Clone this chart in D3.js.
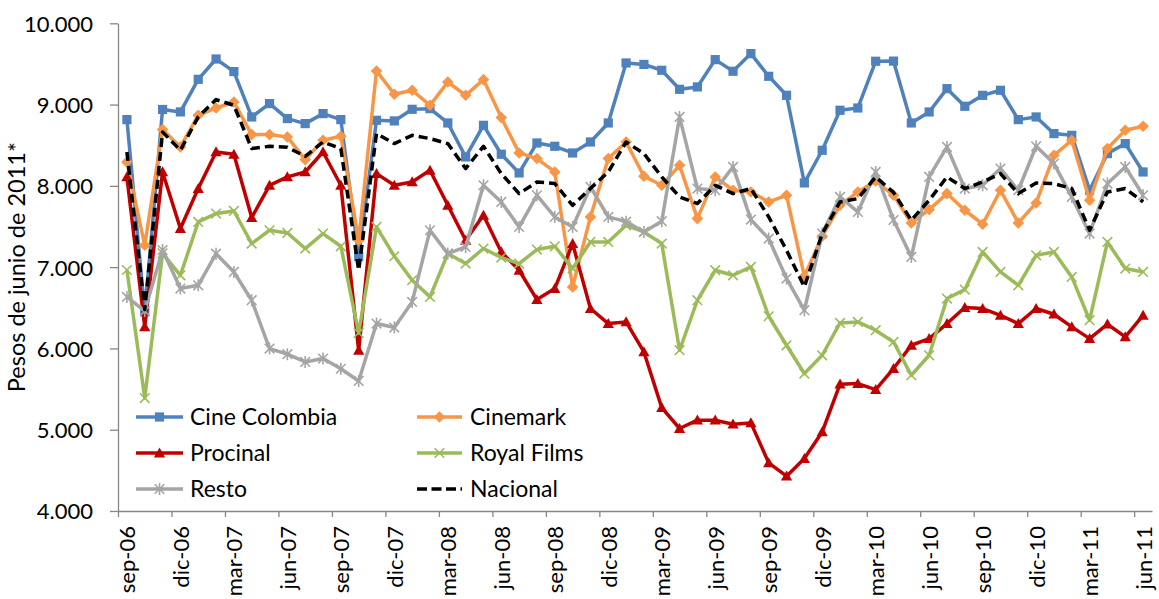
<!DOCTYPE html>
<html><head><meta charset="utf-8">
<script src="https://cdn.jsdelivr.net/npm/d3@7"></script>
<style>
html,body{margin:0;padding:0;background:#fff;}
svg{display:block;}
text{font-family:Lato,"Open Sans",sans-serif;fill:#000;}
</style></head><body>
<svg id="chart" width="1159" height="599"></svg>
<script>
const categories = [
 "sep-06","oct-06","nov-06","dic-06",
 "ene-07","feb-07","mar-07","abr-07","may-07","jun-07","jul-07","ago-07","sep-07","oct-07","nov-07","dic-07",
 "ene-08","feb-08","mar-08","abr-08","may-08","jun-08","jul-08","ago-08","sep-08","oct-08","nov-08","dic-08",
 "ene-09","feb-09","mar-09","abr-09","may-09","jun-09","jul-09","ago-09","sep-09","oct-09","nov-09","dic-09",
 "ene-10","feb-10","mar-10","abr-10","may-10","jun-10","jul-10","ago-10","sep-10","oct-10","nov-10","dic-10",
 "ene-11","feb-11","mar-11","abr-11","may-11","jun-11"];

const tickLabels = ["sep-06","dic-06","mar-07","jun-07","sep-07","dic-07","mar-08","jun-08","sep-08","dic-08",
 "mar-09","jun-09","sep-09","dic-09","mar-10","jun-10","sep-10","dic-10","mar-11","jun-11"];

const yTicks = [4000,5000,6000,7000,8000,9000,10000];

const cineColombia = [8815,6450,8940,8910,9311,9561,9406,8848,9012,8828,8766,8889,8815,7130,8807,8799,
 8942,8950,8774,8356,8745,8389,8159,8528,8487,8405,8540,8774,9512,9494,9422,9188,9217,9553,9410,9627,
 9348,9114,8036,8438,8930,8958,9533,9535,8774,8909,9196,8979,9114,9176,8815,8848,8643,8622,7946,8397,8520,8171];

const cinemark = [8294,7269,8692,8479,8868,8958,9032,8631,8631,8602,8323,8561,8610,7330,9414,9127,
 9176,8991,9278,9114,9307,8840,8405,8336,8171,6757,7618,8336,8540,8118,8007,8253,7597,8110,7946,7925,
 7802,7884,6888,7380,7761,7925,8060,7884,7544,7708,7905,7700,7528,7946,7544,7790,8376,8561,7823,8459,8684,8733];

const procinal = [8110,6265,8171,7475,7967,8417,8389,7610,8007,8110,8171,8417,8007,5975,8151,8007,
 8048,8192,7761,7331,7638,7187,6962,6601,6737,7290,6491,6306,6326,5957,5272,5015,5117,5117,5068,5084,
 4592,4428,4646,4973,5560,5568,5494,5753,6039,6121,6306,6503,6491,6408,6306,6491,6421,6265,6121,6298,6142,6408];

const royalFilms = [6965,5390,7170,6900,7556,7659,7691,7290,7454,7421,7229,7413,7257,6190,7495,7134,
 6839,6634,7167,7044,7229,7118,7044,7216,7257,6983,7310,7310,7515,7433,7290,5978,6593,6962,6900,7003,
 6396,6039,5691,5916,6314,6326,6224,6080,5670,5916,6614,6724,7187,6941,6777,7146,7187,6880,6347,7310,6983,6941];

const resto = [6634,6460,7210,6737,6777,7166,6941,6593,5998,5929,5834,5876,5750,5600,6306,6257,
 6572,7454,7167,7249,8007,7802,7495,7884,7618,7495,7987,7618,7560,7433,7565,8848,7967,7946,8233,7585,
 7351,6860,6470,7413,7864,7679,8171,7580,7126,8110,8479,7967,8007,8213,7946,8487,8274,7864,7413,8028,8233,7884];

const nacional = [8417,6478,8663,8438,8848,9061,8991,8459,8487,8475,8364,8540,8459,6962,8643,8520,
 8622,8582,8520,8213,8487,8151,7905,8048,8028,7761,7967,8171,8540,8397,8110,7864,7782,8007,7905,7967,
 7618,7208,6757,7413,7802,7843,8110,7920,7577,7823,8110,7967,8048,8151,7905,8036,8028,7967,7454,7925,7967,7802];

const seriesNames = ["Cine Colombia","Cinemark","Procinal","Royal Films","Resto","Nacional"];
const seriesValues = [cineColombia, cinemark, procinal, royalFilms, resto, nacional];
const seriesColors = ["#4F81BD","#F79646","#C00000","#9BBB59","#A5A5A5","#000000"];
const seriesMarkers = ["square","diamond","triangle","x","star","none"];

const plot = {left:118, right:1152, top:23.3, bottom:511};
const svg = d3.select("#chart");
const x = d3.scalePoint().domain(categories).range([plot.left, plot.right]).padding(0.5);
const xb = d3.scaleLinear().domain([0, categories.length]).range([plot.left, plot.right]);
const y = d3.scaleLinear().domain([4000, 10000]).range([plot.bottom, plot.top]);
const axisColor = "#868686";
const fontSize = 22;

// X axis line + tick marks at category boundaries
const gx = svg.append("g").attr("transform", `translate(0,${plot.bottom})`)
  .call(d3.axisBottom(xb).tickValues(d3.range(0, categories.length, 3)).tickSize(6).tickSizeOuter(0).tickFormat(""));
gx.select(".domain").attr("stroke", axisColor).attr("stroke-width", 1.3);
gx.selectAll(".tick line").attr("stroke", axisColor).attr("stroke-width", 1.3);

// X labels
const gxl = svg.append("g").attr("transform", `translate(0,${plot.bottom})`)
  .call(d3.axisBottom(x).tickValues(tickLabels).tickSize(0));
gxl.attr("font-family", null).attr("font-size", fontSize);
gxl.select(".domain").remove();
gxl.selectAll(".tick text").attr("transform", "rotate(-90)").attr("text-anchor", "end")
  .attr("x", -15).attr("y", 0).attr("dy", "0.36em").attr("fill", "#000");

// Y axis
const fmt = d3.formatLocale({decimal:",", thousands:".", grouping:[3], currency:["$",""]}).format(",.0f");
const gy = svg.append("g").attr("transform", `translate(${plot.left},0)`)
  .call(d3.axisLeft(y).tickValues(yTicks).tickFormat(fmt).tickSize(8).tickPadding(17).tickSizeOuter(0));
gy.attr("font-family", null).attr("font-size", fontSize);
gy.select(".domain").attr("stroke", axisColor).attr("stroke-width", 1.3);
gy.selectAll(".tick line").attr("stroke", axisColor).attr("stroke-width", 1.3);
gy.selectAll(".tick text").attr("dy", "0.36em").attr("fill", "#000");

// Y title
svg.append("text").attr("transform", `translate(25,${(plot.top + plot.bottom) / 2}) rotate(-90)`)
  .attr("text-anchor", "middle").attr("font-size", 23.5).text("Pesos de junio de 2011*");

function markerPath(type) {
  switch (type) {
    case "square": return "M-4.6,-4.6H4.6V4.6H-4.6Z";
    case "diamond": return "M0,-5.8L5.8,0L0,5.8L-5.8,0Z";
    case "triangle": return "M0,-5.6L5.6,4.4H-5.6Z";
    case "x": return "M-4.8,-4.8L4.8,4.8M-4.8,4.8L4.8,-4.8";
    case "star": return "M-4.8,-4.8L4.8,4.8M-4.8,4.8L4.8,-4.8M0,-6L0,6";
    default: return "";
  }
}
function styleMarker(sel, type, color) {
  if (type === "x" || type === "star") {
    sel.attr("fill", "none").attr("stroke", color).attr("stroke-width", 1.6);
  } else {
    sel.attr("fill", color).attr("stroke", "none");
  }
}

const line = d3.line().x((d, i) => x(categories[i])).y(d => y(d));
const gSeries = svg.append("g");
seriesValues.forEach((vals, si) => {
  const g = gSeries.append("g");
  const color = seriesColors[si];
  const p = g.append("path").datum(vals).attr("d", line).attr("fill", "none")
    .attr("stroke", color).attr("stroke-width", 3.5).attr("stroke-linejoin", "round");
  if (seriesMarkers[si] === "none") p.attr("stroke-dasharray", "9,5");
  if (seriesMarkers[si] !== "none") {
    g.selectAll("path.m").data(vals).join("path").attr("class", "m")
      .attr("d", markerPath(seriesMarkers[si]))
      .attr("transform", (d, i) => `translate(${x(categories[i])},${y(d)})`)
      .call(styleMarker, seriesMarkers[si], color);
  }
});

// Legend
const legendRows = [417, 453, 489];
const legendCols = [{x0:136, x1:183, tx:190}, {x0:417, x1:462, tx:470}];
seriesNames.forEach((name, si) => {
  const r = Math.floor(si / 2), c = si % 2;
  const col = legendCols[c], ly = legendRows[r];
  const g = svg.append("g");
  const ln = g.append("line").attr("x1", col.x0).attr("x2", col.x1).attr("y1", ly).attr("y2", ly)
    .attr("stroke", seriesColors[si]).attr("stroke-width", 3.5);
  if (seriesMarkers[si] === "none") ln.attr("stroke-dasharray", "10,4.5");
  else g.append("path").attr("d", markerPath(seriesMarkers[si]))
    .attr("transform", `translate(${(col.x0 + col.x1) / 2},${ly})`)
    .call(styleMarker, seriesMarkers[si], seriesColors[si]);
  g.append("text").attr("x", col.tx).attr("y", ly).attr("dy", "0.36em")
    .attr("font-size", 23).text(name);
});
</script>
</body></html>
